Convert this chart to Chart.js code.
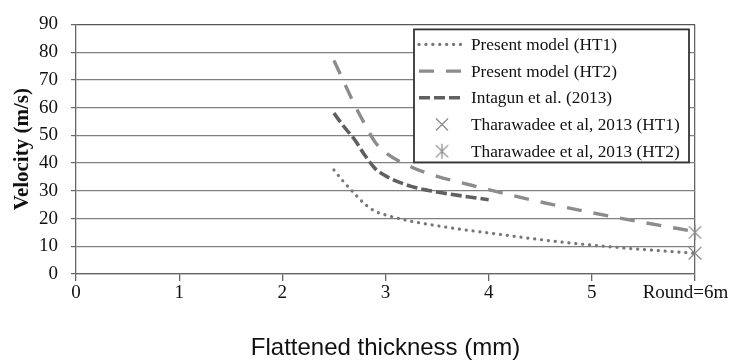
<!DOCTYPE html>
<html>
<head>
<meta charset="utf-8">
<script src="https://cdn.jsdelivr.net/npm/chart.js@4.4.1/dist/chart.umd.min.js"></script>
<style>
  html, body { margin: 0; padding: 0; background: #fff; }
  #wrap { width: 729px; height: 360px; }
</style>
</head>
<body>
<div id="wrap"><canvas id="velocityChart"></canvas></div>
<script>
// values
const thicknessModel = [2.5, 2.6, 2.7, 2.8, 2.9, 3.0, 3.25, 3.5, 3.75, 4.0, 4.5, 5.0, 5.5, 6.0];
const velocityHT1 = [37.5, 33, 29, 25.2, 22.6, 21.3, 19, 17.4, 16, 14.8, 12.4, 10.4, 8.8, 7.5];
const velocityHT2 = [77, 69, 61, 54, 47.5, 43.8, 38.6, 35.2, 32.8, 30.4, 26, 22.1, 18.6, 15.3];
const thicknessIntagun = [2.5, 2.6, 2.7, 2.8, 2.9, 3.0, 3.25, 3.5, 3.75, 4.0];
const velocityIntagun = [58, 53, 48.5, 42.8, 38, 35.4, 31.6, 29.6, 28.1, 26.8];
const thicknessTharawadee = [6];
const tharawadeeHT1 = [7.5];
const tharawadeeHT2 = [15];
const xTickLabels = ['0', '1', '2', '3', '4', '5', 'Round=6m    '];
const seriesNames = [
    'Present model (HT1)',
    'Present model (HT2)',
    'Intagun et al. (2013)',
    'Tharawadee et al, 2013 (HT1)',
    'Tharawadee et al, 2013 (HT2)'
];

const serif = "'Liberation Serif', 'Times New Roman', serif";

function toPoints(xs, ys) {
    return xs.map((x, i) => ({ x: x, y: ys[i] }));
}

// asterisk without the horizontal bar, like the original legend glyph
function asteriskMark(size, color) {
    const c = document.createElement('canvas');
    c.width = size;
    c.height = size;
    const g = c.getContext('2d');
    const h = size / 2;
    const d = h * 0.72;
    g.strokeStyle = color;
    g.lineWidth = 1.3;
    g.beginPath();
    g.moveTo(h - d, h - d); g.lineTo(h + d, h + d);
    g.moveTo(h + d, h - d); g.lineTo(h - d, h + d);
    g.moveTo(h, 1); g.lineTo(h, size - 1);
    g.stroke();
    return c;
}

const markerColor = '#8a8a8a';
const asteriskImg = asteriskMark(17, markerColor);

// legend drawn inside the plot, top right, with a frame
const insideLegend = {
    id: 'insideLegend',
    afterDatasetsDraw(chart) {
        const { ctx, chartArea } = chart;
        const boxW = 275, boxH = 133, rowH = 26.7;
        const x0 = chartArea.right - 6 - boxW;
        const y0 = chartArea.top + 5;
        ctx.save();
        ctx.fillStyle = '#fff';
        ctx.fillRect(x0, y0, boxW, boxH);
        ctx.strokeStyle = '#333';
        ctx.lineWidth = 1.8;
        ctx.strokeRect(x0, y0, boxW, boxH);

        chart.data.datasets.forEach((ds, i) => {
            const cy = y0 + 15 + i * rowH;
            const sx = x0 + 5, ex = x0 + 47;
            ctx.save();
            if (ds.showLine === false) {
                const cx = (sx + ex) / 2 + 2;
                if (ds.pointStyle === 'crossRot') {
                    const d = 6;
                    ctx.strokeStyle = ds.pointBorderColor;
                    ctx.lineWidth = 1.2;
                    ctx.beginPath();
                    ctx.moveTo(cx - d, cy - d); ctx.lineTo(cx + d, cy + d);
                    ctx.moveTo(cx + d, cy - d); ctx.lineTo(cx - d, cy + d);
                    ctx.stroke();
                } else {
                    ctx.drawImage(asteriskImg, cx - 8.5, cy - 8.5);
                }
            } else {
                ctx.strokeStyle = ds.borderColor;
                ctx.lineWidth = ds.borderWidth;
                ctx.lineCap = ds.borderCapStyle || 'butt';
                ctx.setLineDash(ds.borderDash || []);
                ctx.beginPath();
                ctx.moveTo(sx, cy);
                ctx.lineTo(ex, cy);
                ctx.stroke();
            }
            ctx.restore();
            ctx.fillStyle = '#111';
            ctx.font = '17.3px ' + serif;
            ctx.textBaseline = 'middle';
            ctx.textAlign = 'left';
            ctx.fillText(ds.label, x0 + 57, cy + 1);
        });
        ctx.restore();
    }
};

const ctx = document.getElementById('velocityChart').getContext('2d');

new Chart(ctx, {
    type: 'line',
    data: {
        datasets: [{
            label: seriesNames[0],
            data: toPoints(thicknessModel, velocityHT1),
            borderColor: '#777',
            borderWidth: 3.2,
            borderDash: [0.1, 6.8],
            borderCapStyle: 'round',
            pointRadius: 0,
            cubicInterpolationMode: 'monotone'
        }, {
            label: seriesNames[1],
            data: toPoints(thicknessModel, velocityHT2),
            borderColor: '#8c8c8c',
            borderWidth: 3.4,
            borderDash: [15, 12],
            pointRadius: 0,
            cubicInterpolationMode: 'monotone'
        }, {
            label: seriesNames[2],
            data: toPoints(thicknessIntagun, velocityIntagun),
            borderColor: '#606060',
            borderWidth: 3.6,
            borderDash: [11, 4],
            pointRadius: 0,
            cubicInterpolationMode: 'monotone'
        }, {
            label: seriesNames[3],
            data: toPoints(thicknessTharawadee, tharawadeeHT1),
            showLine: false,
            pointStyle: 'crossRot',
            pointRadius: 9,
            pointBorderColor: markerColor,
            pointBorderWidth: 1.3,
            clip: false
        }, {
            label: seriesNames[4],
            data: toPoints(thicknessTharawadee, tharawadeeHT2),
            showLine: false,
            pointStyle: asteriskImg,
            pointRadius: 9,
            pointBorderColor: markerColor,
            clip: false
        }]
    },
    options: {
        responsive: true,
        maintainAspectRatio: false,
        animation: false,
        layout: { padding: { top: 17, right: 34, left: 0, bottom: 0 } },
        plugins: {
            legend: { display: false },
            tooltip: { enabled: false }
        },
        scales: {
            x: {
                type: 'linear',
                min: 0,
                max: 6,
                afterFit: (scale) => { scale.height = 86; scale.paddingLeft = 0; scale.paddingRight = 0; },
                ticks: {
                    stepSize: 1,
                    autoSkip: false,
                    padding: 1,
                    maxRotation: 0,
                    color: '#111',
                    font: { family: serif, size: 19 },
                    callback: (value) => xTickLabels[value]
                },
                grid: {
                    color: (c) => (c.tick && c.tick.value === 6 ? '#666' : 'rgba(0,0,0,0)'),
                    tickColor: '#666',
                    tickLength: 7,
                    lineWidth: 1.3
                },
                border: { color: '#666', width: 1.3 },
                title: {
                    display: true,
                    text: 'Flattened thickness (mm)',
                    color: '#111',
                    font: { family: "'Liberation Sans', Arial, sans-serif", size: 24, lineHeight: 1 },
                    padding: { top: 0, bottom: 0 }
                }
            },
            y: {
                min: 0,
                max: 90,
                afterFit: (scale) => { scale.width = 76; },
                ticks: {
                    stepSize: 10,
                    autoSkip: false,
                    padding: 13,
                    color: '#111',
                    font: { family: serif, size: 19 }
                },
                grid: {
                    color: (c) => (c.tick && c.tick.value === 90 ? '#555' : '#808080'),
                    tickColor: '#666',
                    tickLength: 5,
                    lineWidth: 1.2
                },
                border: { color: '#666', width: 1.3 },
                title: {
                    display: true,
                    text: 'Velocity (m/s)',
                    color: '#111',
                    font: { family: serif, size: 21, weight: 'bold' },
                    padding: { top: 9.5, bottom: 0 }
                }
            }
        }
    },
    plugins: [insideLegend]
});
</script>
</body>
</html>
